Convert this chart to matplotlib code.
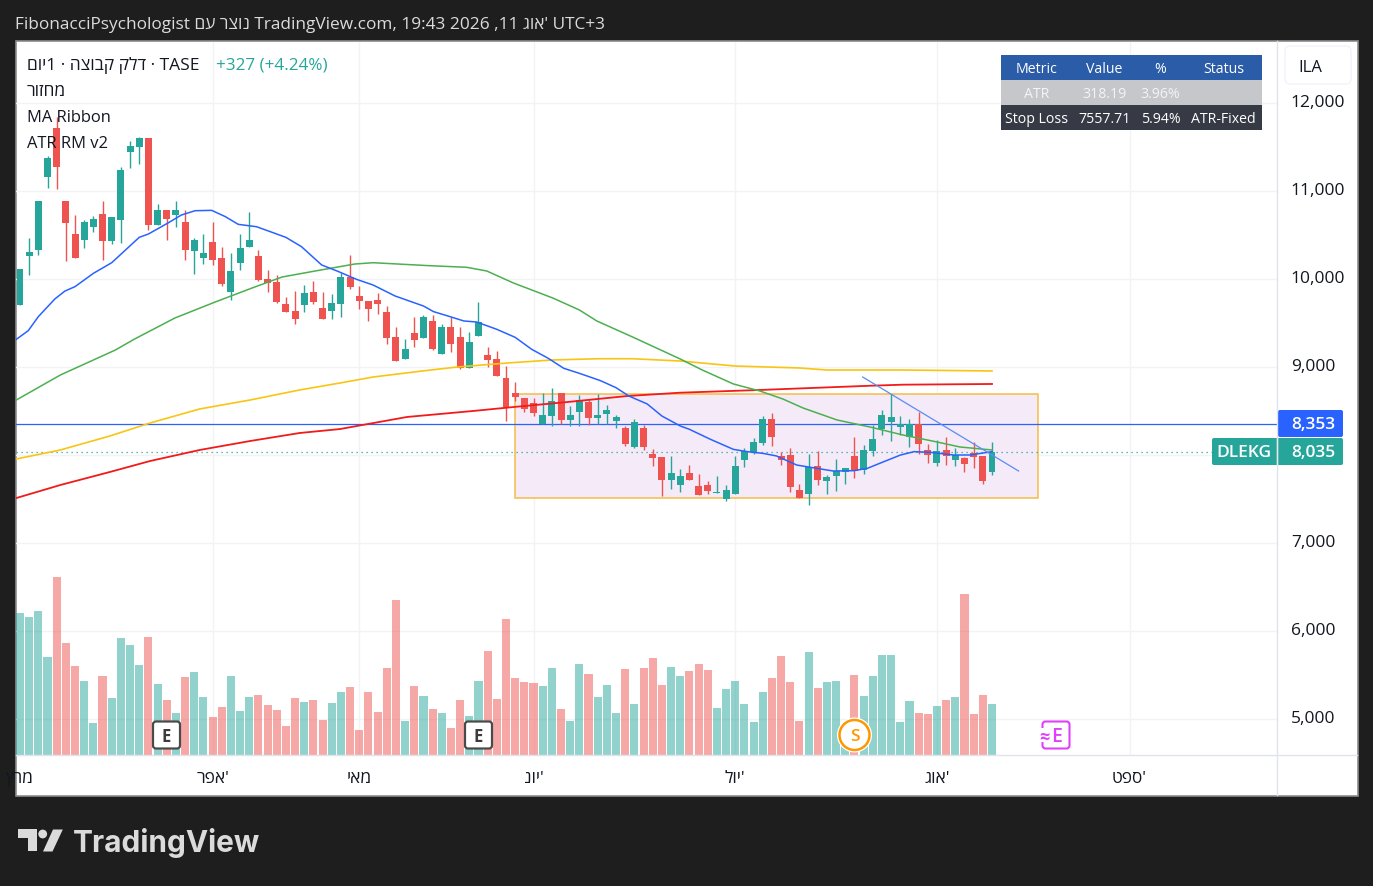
import matplotlib

matplotlib.use("Agg")
import matplotlib.pyplot as plt
from matplotlib.patches import Circle, FancyBboxPatch, Polygon, Rectangle
from matplotlib.transforms import ScaledTranslation

plt.rcParams["font.family"] = ["Open Sans", "Liberation Sans", "DejaVu Sans"]

W, H = 1373, 887

# daily candles
opens = [9704, 10261, 10329, 11159, 11716, 10886, 10511, 10443, 10591, 10738, 10432, 10670, 11443, 11500, 11602, 10613,
         10784, 10727, 10648, 10318, 10238, 10420, 10238, 9852, 10182, 10363, 10261, 9999, 9966, 9716, 9636, 9704,
         9852, 9670, 9636, 9716, 10023, 9807, 9750, 9761, 9625, 9341, 9091, 9386, 9330, 9523, 9148, 9455,
         9341, 8989, 9352, 9136, 9091, 8875, 8705, 8648, 8591, 8352, 8443, 8705, 8398, 8489, 8602, 8420,
         8466, 8386, 8307, 8091, 8307, 8011, 7977, 7716, 7659, 7796, 7648, 7659, 7568, 7500, 7557, 7943,
         8034, 8136, 8409, 7989, 8000, 7602, 7557, 7875, 7705, 7761, 7807, 7989, 7830, 8046, 8295, 8375,
         8318, 8205, 8352, 8057, 7909, 8057, 7943, 7966, 8023, 7989, 7807]
closes = [10113, 10307, 10886, 11375, 11273, 10636, 10238, 10648, 10682, 10432, 10704, 11239, 11511, 11602, 10613, 10784,
          10682, 10784, 10329, 10443, 10295, 10216, 9943, 10091, 10352, 10443, 9988, 9954, 9738, 9625, 9545, 9841,
          9738, 9545, 9727, 10023, 9909, 9750, 9659, 9716, 9330, 9068, 9205, 9307, 9568, 9205, 9455, 9261,
          8989, 9284, 9511, 9080, 8898, 8545, 8659, 8523, 8477, 8455, 8614, 8398, 8455, 8625, 8420, 8455,
          8511, 8432, 8125, 8375, 8091, 7966, 7716, 7795, 7761, 7716, 7545, 7591, 7580, 7602, 7875, 8046,
          8148, 8409, 8205, 7943, 7636, 7508, 7867, 7716, 7750, 7818, 7852, 7818, 8057, 8182, 8455, 8432,
          8352, 8352, 8125, 8000, 8046, 7989, 8000, 7898, 7977, 7705, 8035]
highs = [10113, 10466, 10886, 11398, 11837, 10886, 10727, 10670, 10716, 10886, 10704, 11273, 11568, 11614, 11602, 10852,
         10784, 10886, 10784, 10466, 10511, 10648, 10363, 10295, 10511, 10761, 10329, 10102, 10045, 9795, 9863, 9932,
         9977, 9852, 9829, 10064, 10272, 9921, 9750, 9841, 9693, 9455, 9318, 9568, 9591, 9591, 9489, 9568,
         9455, 9398, 9739, 9227, 9182, 9011, 8830, 8648, 8648, 8705, 8761, 8705, 8557, 8682, 8625, 8693,
         8568, 8455, 8330, 8409, 8341, 8068, 7977, 7989, 7841, 7886, 7784, 7705, 7761, 7659, 7989, 8080,
         8193, 8443, 8477, 8034, 8080, 7670, 8011, 8046, 7773, 7955, 7852, 8205, 8114, 8341, 8511, 8693,
         8443, 8409, 8489, 8125, 8171, 8205, 8080, 7977, 8148, 7989, 8148]
lows = [9704, 10045, 10273, 11034, 11023, 10204, 10238, 10352, 10534, 10216, 10398, 10409, 11261, 11307, 10557, 10613,
        10443, 10591, 10216, 10057, 10170, 10159, 9920, 9761, 10102, 10363, 9977, 9852, 9727, 9625, 9488, 9625,
        9716, 9545, 9545, 9568, 9886, 9659, 9523, 9602, 9261, 9068, 9091, 9227, 9330, 9193, 9148, 9170,
        8977, 8989, 9352, 9000, 8898, 8386, 8614, 8489, 8443, 8352, 8330, 8352, 8330, 8330, 8341, 8352,
        8352, 8307, 8102, 8080, 8057, 7875, 7534, 7614, 7580, 7716, 7545, 7557, 7568, 7477, 7557, 7864,
        8011, 8114, 8102, 7886, 7580, 7508, 7432, 7659, 7557, 7591, 7670, 7739, 7784, 7989, 8227, 8159,
        8227, 8091, 8011, 7909, 7875, 7886, 7875, 7807, 7852, 7670, 7773]
volumes = [427, 415, 433, 295, 535, 337, 268, 223, 97, 238, 172, 352, 331, 271, 355, 214,
           166, 127, 235, 250, 175, 115, 145, 238, 133, 175, 181, 151, 136, 88, 172, 160,
           166, 106, 157, 190, 205, 76, 190, 130, 262, 466, 103, 208, 178, 139, 127, 82,
           166, 118, 223, 313, 169, 409, 232, 220, 217, 208, 262, 139, 103, 274, 244, 175,
           211, 127, 259, 154, 262, 292, 211, 265, 238, 253, 274, 256, 142, 199, 223, 154,
           100, 190, 232, 298, 220, 103, 310, 202, 220, 223, 40, 241, 178, 238, 301, 301,
           100, 163, 127, 124, 148, 166, 175, 484, 124, 181, 154]

# moving averages
blue_x = [-0.4, 0.9, 2, 3.8, 4.9, 6, 8, 10, 11.5, 13, 14, 16.2, 17.6, 19.1, 20.9, 22.4, 23.8, 25.8, 27.5, 29,
          30.7, 32.9, 34.6, 36.7, 38.5, 40.9, 44, 45.1, 46.9, 48.4, 49.8, 52, 54, 55.8, 57.6, 59.3, 61, 63.3, 65,
          66.4, 68.4, 70, 72, 73, 75.3, 77.8, 79.3, 81, 82.5, 84.7, 86.9, 88.7, 90.9, 92.4, 94.2, 96, 97.5,
          99.3, 101.8, 103.6, 106]
blue_y = [9314, 9413, 9572, 9773, 9863, 9913, 10064, 10185, 10329, 10473, 10511, 10640, 10727, 10776, 10780, 10708,
          10621, 10594, 10530, 10473, 10367, 10159, 10090, 9996, 9932, 9807, 9693, 9629, 9572, 9523, 9511, 9428,
          9337, 9201, 9099, 8985, 8928, 8845, 8765, 8670, 8580, 8443, 8330, 8292, 8178, 8064, 8038, 8019, 7989,
          7886, 7848, 7818, 7822, 7848, 7924, 7999, 8038, 8030, 8000, 8000, 8038]
green_x = [-0.4, 4.4, 10.4, 12.5, 16.9, 21.3, 25.6, 28.6, 32.2, 36.5, 38.5, 44.7, 48.7, 50.9, 53.8, 58.1, 61, 62.9,
           66.8, 72, 74.4, 77.8, 80.7, 83.2, 85.4, 89.1, 92.7, 96.3, 100, 102.5, 106]
green_y = [8625, 8909, 9193, 9318, 9557, 9739, 9909, 10023, 10091, 10170, 10185, 10151, 10133, 10091, 9955, 9784,
           9648, 9523, 9341, 9091, 8966, 8807, 8727, 8636, 8534, 8398, 8318, 8227, 8148, 8091, 8057]
yellow_x = [-0.4, 4.4, 9.8, 14.2, 19.6, 25.1, 30.5, 34.9, 38.5, 43.9, 47.7, 53.1, 58.1, 63.2, 66.8, 72, 78, 85, 88,
            96, 106]
yellow_y = [7955, 8057, 8216, 8364, 8523, 8625, 8739, 8818, 8886, 8955, 9000, 9045, 9080, 9094, 9094, 9068, 9011,
            8989, 8966, 8966, 8955]
red_x = [-0.4, 4.4, 9.8, 14.2, 19.6, 25.1, 30.5, 34.9, 42.2, 49.4, 53.8, 59.7, 66.2, 72, 80.7, 92.7, 96.3, 106]
red_y = [7511, 7659, 7807, 7932, 8057, 8159, 8250, 8295, 8432, 8500, 8545, 8602, 8670, 8708, 8739, 8787, 8799, 8807]

# drawings
range_x = [54.0, 111.0]
range_y = [7511, 8697]
trend_x = [91.9, 108.9]
trend_y = [8886, 7818]
hline_price = 8353
last_price = 8035

price_ticks = [5000, 6000, 7000, 8000, 9000, 10000, 11000, 12000]
month_pos = [21, 37, 56, 78, 100, 121]
month_names = ["'אפר", "מאי", "'יונ", "'יול", "'אוג", "'ספט"]

table_header = ["Metric", "Value", "%", "Status"]
table_atr = ["ATR", "318.19", "3.96%", ""]
table_stop = ["Stop Loss", "7557.71", "5.94%", "ATR-Fixed"]

UP = "#26a69a"
DOWN = "#ef5350"
GRID = "#f2f3f5"
TEXT = "#131722"


def rtl(s):
    # matplotlib has no bidi, so Hebrew goes in visual order
    return s[::-1]


fig = plt.figure(figsize=(W / 100, H / 100), dpi=100, facecolor="#1e1e1e")

# white panel under everything
bg = fig.add_axes([0, 0, 1, 1], zorder=0)
bg.set_xlim(0, W)
bg.set_ylim(H, 0)
bg.axis("off")
bg.add_patch(Rectangle((15.5, 41.5), 1342, 755, fc="white", ec="#8c8c8c", lw=1.2))

rect = [16 / W, (H - 756) / H, 1261 / W, 713 / H]

# price axes below the volume axes, so the grid stays under the bars
ax = fig.add_axes(rect, zorder=1)
ax.patch.set_visible(False)
ax_vol = fig.add_axes(rect, zorder=2, sharex=ax)
ax_vol.axis("off")

xs = list(range(len(opens)))
up = [c >= o for o, c in zip(opens, closes)]
colors = [UP if u else DOWN for u in up]

ax_vol.bar(xs, volumes, width=0.88, color=colors, alpha=0.5, lw=0)
ax_vol.set_ylim(0, 2139)

ax.set_xlim(-0.436, 137.08)
ax.set_ylim(4591, 12693)

ax.grid(True, color=GRID, lw=1)
ax.set_axisbelow(True)
for s in ax.spines.values():
    s.set_visible(False)

ax.add_patch(Rectangle((range_x[0], range_y[0]), range_x[1] - range_x[0], range_y[1] - range_y[0],
                       fc="#f5eaf7", ec="#f6bc45", lw=1.1, zorder=1))

ax.axhline(hline_price, color="#2962ff", lw=0.9, zorder=2)
ax.axhline(last_price, color=UP, lw=0.9, ls=(0, (1, 3)), zorder=2)

ax.vlines(xs, lows, highs, colors=colors, lw=1, zorder=3)
bottoms = [min(o, c) for o, c in zip(opens, closes)]
heights = [abs(o - c) for o, c in zip(opens, closes)]
ax.bar(xs, heights, bottom=bottoms, width=0.76, color=colors, lw=0, zorder=3)

ax.plot(yellow_x, yellow_y, color="#f9c513", lw=1.2, zorder=4)
ax.plot(red_x, red_y, color="#f21a1a", lw=1.3, zorder=4)
ax.plot(green_x, green_y, color="#4caf50", lw=1.1, zorder=4)
ax.plot(blue_x, blue_y, color="#2962ff", lw=1.1, zorder=4)
ax.plot(trend_x, trend_y, color="#5b8cf5", lw=0.9, zorder=4)

ax.yaxis.tick_right()
ax.set_yticks(price_ticks, [f"{p:,}" for p in price_ticks])
ax.set_xticks(month_pos, [rtl(m) for m in month_names])
ax.tick_params(axis="both", length=0, labelcolor=TEXT, labelsize=12.5)
ax.tick_params(axis="y", pad=10)
ax.tick_params(axis="x", pad=10.5)
lift = ScaledTranslation(0, 2 / 72, fig.dpi_scale_trans)
for lab in ax.get_yticklabels():
    lab.set_transform(lab.get_transform() + lift)

# everything on top goes in pixel coordinates
top = fig.add_axes([0, 0, 1, 1], zorder=3)
top.set_xlim(0, W)
top.set_ylim(H, 0)
top.axis("off")

top.plot([1277, 1277], [42, 796], color="#e0e3eb", lw=1)
top.plot([16, 1357], [755.5, 755.5], color="#e0e3eb", lw=1)

# header
top.text(15, 25, "FibonacciPsychologist " + rtl("נוצר עם") + " TradingView.com, 19:43 2026 ,11 " + rtl("'אוג") + " UTC+3",
         color="#dbdbdb", fontsize=12.4, va="center", ha="left")

# legend
top.text(27, 66, rtl("יום") + "1 · " + rtl("דלק קבוצה") + " · TASE", color=TEXT, fontsize=12.5, va="center")
top.text(216, 66, "+327 (+4.24%)", color=UP, fontsize=12.3, va="center")
top.text(27, 92, rtl("מחזור"), color=TEXT, fontsize=12.5, va="center")
top.text(27, 118, "MA Ribbon", color=TEXT, fontsize=11.9, va="center")
top.text(27, 144, "ATR RM v2", color=TEXT, fontsize=11.9, va="center")

# March label is cut by the panel edge
mar = top.text(34, 779, rtl("מרץ"), color=TEXT, fontsize=12.5, va="center", ha="right")
mar.set_clip_path(Rectangle((16, 756), 300, 40, transform=top.transData))

# table
table_left, table_right = 1001, 1262
col_x = [1037, 1104.5, 1160.5, 1223.5]
rows = [(56, 81, "#2a5ca8", table_header, "white"),
        (81, 106, "#c6c7cb", table_atr, "#f4f4f5"),
        (106, 131, "#363a45", table_stop, "white")]
for y0, y1, fill, cells, tc in rows:
    top.add_patch(Rectangle((table_left, y0), table_right - table_left, y1 - y0, fc=fill, lw=0))
    for cx, label in zip(col_x, cells):
        top.text(cx, (y0 + y1) / 2 + 1, label, color=tc, fontsize=10.2, ha="center", va="center")

# currency box
top.add_patch(FancyBboxPatch((1287, 49), 62, 34, boxstyle="round,pad=2,rounding_size=5", fc="white", ec="#f0f3fa", lw=1))
top.text(1298, 68, "ILA", color=TEXT, fontsize=12, va="center")

# price tags
top.add_patch(FancyBboxPatch((1279, 412), 63, 25, boxstyle="round,pad=1,rounding_size=2", fc="#2962ff", lw=0))
top.text(1313, 425, "8,353", color="white", fontsize=12.5, fontweight="semibold", ha="center", va="center")
top.add_patch(FancyBboxPatch((1213, 440), 129, 25, boxstyle="round,pad=1,rounding_size=2", fc=UP, lw=0))
top.plot([1277, 1277], [439, 466], color="#e6e6e6", lw=1)
top.text(1244, 453.5, "DLEKG", color="white", fontsize=12.5, fontweight="semibold", ha="center", va="center")
top.text(1313, 453.5, "8,035", color="white", fontsize=12.5, fontweight="semibold", ha="center", va="center")

# event badges
for cx in [166.5, 478.5]:
    top.add_patch(FancyBboxPatch((cx - 12.5, 723.5), 25, 25, boxstyle="round,pad=1,rounding_size=3",
                                 fc="white", ec="#4a4a4a", lw=1.6))
    top.text(cx, 737.5, "E", color="#3c3c3c", fontsize=12, fontweight="bold", ha="center", va="center")

top.add_patch(Circle((854.5, 736), 17.5, fc="white", lw=0))
top.add_patch(Circle((854.5, 736), 15, fc="white", ec="#ff9800", lw=1.8))
top.text(854.5, 737.5, "S", color="#ff9800", fontsize=12.5, fontweight="semibold", ha="center", va="center")

top.add_patch(FancyBboxPatch((1043, 723), 26, 26, boxstyle="round,pad=0.5,rounding_size=3", fc="white", ec="#e040fb", lw=1.5))
top.add_patch(Rectangle((1040, 729), 6, 14, fc="white", lw=0))
top.text(1044, 738, "≈", color="#e040fb", fontsize=13, fontweight="bold", ha="center", va="center")
top.text(1056.5, 737.5, "E", color="#e040fb", fontsize=14, fontweight="semibold", ha="center", va="center")

# logo
LOGO = "#dbdbdb"
top.add_patch(Polygon([(18, 830.5), (36.5, 830.5), (36.5, 852.5), (27.5, 852.5), (27.5, 839.5), (18, 839.5)], fc=LOGO, lw=0))
top.add_patch(Circle((42.7, 835), 4.4, fc=LOGO, lw=0))
top.add_patch(Polygon([(53, 830.5), (62.8, 830.5), (52.5, 852.5), (43, 852.5)], fc=LOGO, lw=0))
top.text(73, 843, "TradingView", color=LOGO, fontsize=21.5, family=["Inter", "DejaVu Sans"], fontweight="bold", va="center")

fig.savefig("out.png", dpi=100, facecolor=fig.get_facecolor())
